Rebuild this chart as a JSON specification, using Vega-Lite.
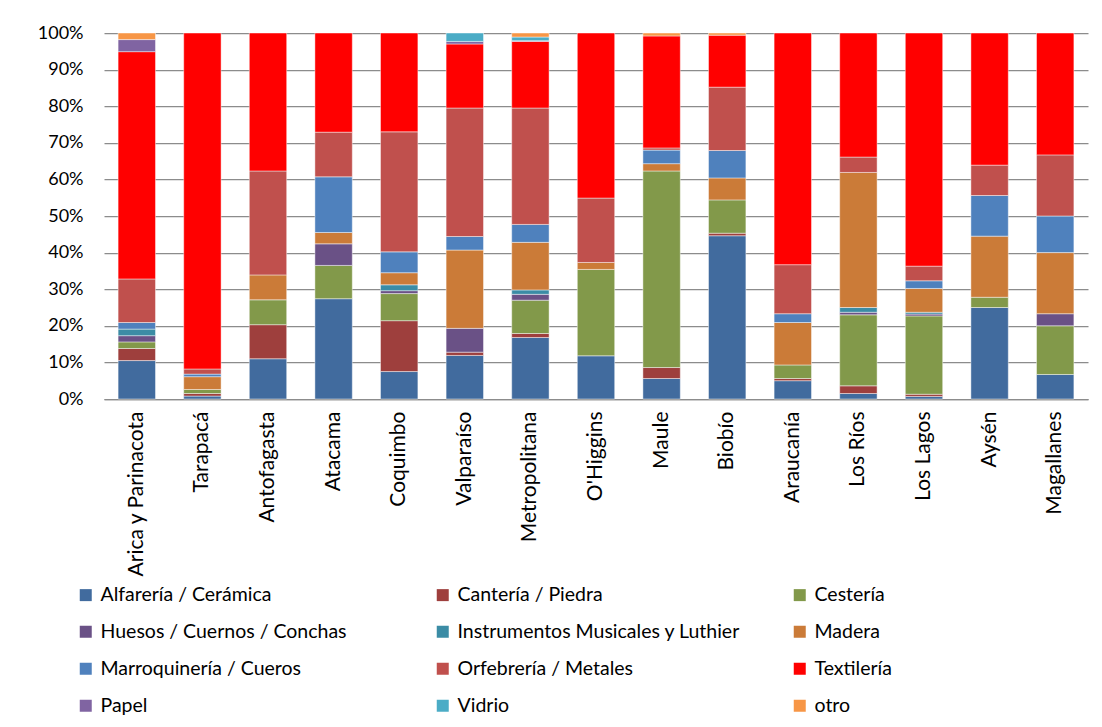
{
  "$schema": "https://vega.github.io/schema/vega-lite/v6.json",
  "width": 984,
  "height": 366,
  "autosize": "none",
  "padding": {"left": 104, "top": 33, "right": 14, "bottom": 328},
  "background": "white",
  "config": {
    "font": "Lato",
    "view": {"stroke": null},
    "axis": {"labelFont": "Lato", "labelColor": "#000000", "labelFontSize": 18}
  },
  "datasets": {
    "orden": [
      {"tipo": "Alfarería / Cerámica", "idx": 0},
      {"tipo": "Cantería / Piedra", "idx": 1},
      {"tipo": "Cestería", "idx": 2},
      {"tipo": "Huesos / Cuernos / Conchas", "idx": 3},
      {"tipo": "Instrumentos Musicales y Luthier", "idx": 4},
      {"tipo": "Madera", "idx": 5},
      {"tipo": "Marroquinería / Cueros", "idx": 6},
      {"tipo": "Orfebrería / Metales", "idx": 7},
      {"tipo": "Textilería", "idx": 8},
      {"tipo": "Papel", "idx": 9},
      {"tipo": "Vidrio", "idx": 10},
      {"tipo": "otro", "idx": 11}
    ]
  },
  "data": {
    "values": [
      {"region": "Arica y Parinacota", "tipo": "Alfarería / Cerámica", "valor": 10.5},
      {"region": "Arica y Parinacota", "tipo": "Cantería / Piedra", "valor": 3.3},
      {"region": "Arica y Parinacota", "tipo": "Cestería", "valor": 1.8},
      {"region": "Arica y Parinacota", "tipo": "Huesos / Cuernos / Conchas", "valor": 1.7},
      {"region": "Arica y Parinacota", "tipo": "Instrumentos Musicales y Luthier", "valor": 1.8},
      {"region": "Arica y Parinacota", "tipo": "Marroquinería / Cueros", "valor": 1.8},
      {"region": "Arica y Parinacota", "tipo": "Orfebrería / Metales", "valor": 11.9},
      {"region": "Arica y Parinacota", "tipo": "Textilería", "valor": 62.1},
      {"region": "Arica y Parinacota", "tipo": "Papel", "valor": 3.3},
      {"region": "Arica y Parinacota", "tipo": "otro", "valor": 1.8},

      {"region": "Tarapacá", "tipo": "Alfarería / Cerámica", "valor": 0.8},
      {"region": "Tarapacá", "tipo": "Cantería / Piedra", "valor": 0.7},
      {"region": "Tarapacá", "tipo": "Cestería", "valor": 1.1},
      {"region": "Tarapacá", "tipo": "Madera", "valor": 3.5},
      {"region": "Tarapacá", "tipo": "Marroquinería / Cueros", "valor": 0.7},
      {"region": "Tarapacá", "tipo": "Orfebrería / Metales", "valor": 1.4},
      {"region": "Tarapacá", "tipo": "Textilería", "valor": 91.8},

      {"region": "Antofagasta", "tipo": "Alfarería / Cerámica", "valor": 11.0},
      {"region": "Antofagasta", "tipo": "Cantería / Piedra", "valor": 9.3},
      {"region": "Antofagasta", "tipo": "Cestería", "valor": 6.8},
      {"region": "Antofagasta", "tipo": "Madera", "valor": 6.8},
      {"region": "Antofagasta", "tipo": "Orfebrería / Metales", "valor": 28.4},
      {"region": "Antofagasta", "tipo": "Textilería", "valor": 37.7},

      {"region": "Atacama", "tipo": "Alfarería / Cerámica", "valor": 27.4},
      {"region": "Atacama", "tipo": "Cestería", "valor": 9.1},
      {"region": "Atacama", "tipo": "Huesos / Cuernos / Conchas", "valor": 5.9},
      {"region": "Atacama", "tipo": "Madera", "valor": 3.1},
      {"region": "Atacama", "tipo": "Marroquinería / Cueros", "valor": 15.2},
      {"region": "Atacama", "tipo": "Orfebrería / Metales", "valor": 12.2},
      {"region": "Atacama", "tipo": "Textilería", "valor": 27.1},

      {"region": "Coquimbo", "tipo": "Alfarería / Cerámica", "valor": 7.5},
      {"region": "Coquimbo", "tipo": "Cantería / Piedra", "valor": 13.9},
      {"region": "Coquimbo", "tipo": "Cestería", "valor": 7.4},
      {"region": "Coquimbo", "tipo": "Huesos / Cuernos / Conchas", "valor": 0.8},
      {"region": "Coquimbo", "tipo": "Instrumentos Musicales y Luthier", "valor": 1.6},
      {"region": "Coquimbo", "tipo": "Madera", "valor": 3.3},
      {"region": "Coquimbo", "tipo": "Marroquinería / Cueros", "valor": 5.7},
      {"region": "Coquimbo", "tipo": "Orfebrería / Metales", "valor": 32.8},
      {"region": "Coquimbo", "tipo": "Textilería", "valor": 27.0},

      {"region": "Valparaíso", "tipo": "Alfarería / Cerámica", "valor": 11.9},
      {"region": "Valparaíso", "tipo": "Cantería / Piedra", "valor": 0.9},
      {"region": "Valparaíso", "tipo": "Huesos / Cuernos / Conchas", "valor": 6.5},
      {"region": "Valparaíso", "tipo": "Madera", "valor": 21.4},
      {"region": "Valparaíso", "tipo": "Marroquinería / Cueros", "valor": 3.7},
      {"region": "Valparaíso", "tipo": "Orfebrería / Metales", "valor": 35.1},
      {"region": "Valparaíso", "tipo": "Textilería", "valor": 17.5},
      {"region": "Valparaíso", "tipo": "Papel", "valor": 0.7},
      {"region": "Valparaíso", "tipo": "Vidrio", "valor": 2.3},

      {"region": "Metropolitana", "tipo": "Alfarería / Cerámica", "valor": 16.8},
      {"region": "Metropolitana", "tipo": "Cantería / Piedra", "valor": 1.1},
      {"region": "Metropolitana", "tipo": "Cestería", "valor": 9.1},
      {"region": "Metropolitana", "tipo": "Huesos / Cuernos / Conchas", "valor": 1.6},
      {"region": "Metropolitana", "tipo": "Instrumentos Musicales y Luthier", "valor": 1.2},
      {"region": "Metropolitana", "tipo": "Madera", "valor": 13.0},
      {"region": "Metropolitana", "tipo": "Marroquinería / Cueros", "valor": 4.9},
      {"region": "Metropolitana", "tipo": "Orfebrería / Metales", "valor": 31.8},
      {"region": "Metropolitana", "tipo": "Textilería", "valor": 18.2},
      {"region": "Metropolitana", "tipo": "Papel", "valor": 0.2},
      {"region": "Metropolitana", "tipo": "Vidrio", "valor": 1.0},
      {"region": "Metropolitana", "tipo": "otro", "valor": 1.1},

      {"region": "O'Higgins", "tipo": "Alfarería / Cerámica", "valor": 11.8},
      {"region": "O'Higgins", "tipo": "Cestería", "valor": 23.6},
      {"region": "O'Higgins", "tipo": "Madera", "valor": 1.9},
      {"region": "O'Higgins", "tipo": "Orfebrería / Metales", "valor": 17.6},
      {"region": "O'Higgins", "tipo": "Textilería", "valor": 45.1},

      {"region": "Maule", "tipo": "Alfarería / Cerámica", "valor": 5.6},
      {"region": "Maule", "tipo": "Cantería / Piedra", "valor": 3.0},
      {"region": "Maule", "tipo": "Cestería", "valor": 53.7},
      {"region": "Maule", "tipo": "Madera", "valor": 2.0},
      {"region": "Maule", "tipo": "Marroquinería / Cueros", "valor": 3.7},
      {"region": "Maule", "tipo": "Orfebrería / Metales", "valor": 0.6},
      {"region": "Maule", "tipo": "Textilería", "valor": 30.6},
      {"region": "Maule", "tipo": "otro", "valor": 0.8},

      {"region": "Biobío", "tipo": "Alfarería / Cerámica", "valor": 44.6},
      {"region": "Biobío", "tipo": "Cantería / Piedra", "valor": 0.7},
      {"region": "Biobío", "tipo": "Cestería", "valor": 9.1},
      {"region": "Biobío", "tipo": "Madera", "valor": 6.0},
      {"region": "Biobío", "tipo": "Marroquinería / Cueros", "valor": 7.5},
      {"region": "Biobío", "tipo": "Orfebrería / Metales", "valor": 17.3},
      {"region": "Biobío", "tipo": "Textilería", "valor": 14.2},
      {"region": "Biobío", "tipo": "otro", "valor": 0.6},

      {"region": "Araucanía", "tipo": "Alfarería / Cerámica", "valor": 5.0},
      {"region": "Araucanía", "tipo": "Cantería / Piedra", "valor": 0.6},
      {"region": "Araucanía", "tipo": "Cestería", "valor": 3.7},
      {"region": "Araucanía", "tipo": "Madera", "valor": 11.6},
      {"region": "Araucanía", "tipo": "Marroquinería / Cueros", "valor": 2.4},
      {"region": "Araucanía", "tipo": "Orfebrería / Metales", "valor": 13.4},
      {"region": "Araucanía", "tipo": "Textilería", "valor": 63.3},

      {"region": "Los Ríos", "tipo": "Alfarería / Cerámica", "valor": 1.5},
      {"region": "Los Ríos", "tipo": "Cantería / Piedra", "valor": 2.1},
      {"region": "Los Ríos", "tipo": "Cestería", "valor": 19.4},
      {"region": "Los Ríos", "tipo": "Huesos / Cuernos / Conchas", "valor": 0.7},
      {"region": "Los Ríos", "tipo": "Instrumentos Musicales y Luthier", "valor": 1.3},
      {"region": "Los Ríos", "tipo": "Madera", "valor": 36.9},
      {"region": "Los Ríos", "tipo": "Orfebrería / Metales", "valor": 4.2},
      {"region": "Los Ríos", "tipo": "Textilería", "valor": 33.9},

      {"region": "Los Lagos", "tipo": "Alfarería / Cerámica", "valor": 0.7},
      {"region": "Los Lagos", "tipo": "Cantería / Piedra", "valor": 0.6},
      {"region": "Los Lagos", "tipo": "Cestería", "valor": 21.4},
      {"region": "Los Lagos", "tipo": "Huesos / Cuernos / Conchas", "valor": 0.5},
      {"region": "Los Lagos", "tipo": "Instrumentos Musicales y Luthier", "valor": 0.5},
      {"region": "Los Lagos", "tipo": "Madera", "valor": 6.5},
      {"region": "Los Lagos", "tipo": "Marroquinería / Cueros", "valor": 2.1},
      {"region": "Los Lagos", "tipo": "Orfebrería / Metales", "valor": 4.0},
      {"region": "Los Lagos", "tipo": "Textilería", "valor": 63.7},

      {"region": "Aysén", "tipo": "Alfarería / Cerámica", "valor": 25.0},
      {"region": "Aysén", "tipo": "Cestería", "valor": 2.8},
      {"region": "Aysén", "tipo": "Madera", "valor": 16.7},
      {"region": "Aysén", "tipo": "Marroquinería / Cueros", "valor": 11.1},
      {"region": "Aysén", "tipo": "Orfebrería / Metales", "valor": 8.3},
      {"region": "Aysén", "tipo": "Textilería", "valor": 36.1},

      {"region": "Magallanes", "tipo": "Alfarería / Cerámica", "valor": 6.7},
      {"region": "Magallanes", "tipo": "Cestería", "valor": 13.3},
      {"region": "Magallanes", "tipo": "Huesos / Cuernos / Conchas", "valor": 3.3},
      {"region": "Magallanes", "tipo": "Madera", "valor": 16.7},
      {"region": "Magallanes", "tipo": "Marroquinería / Cueros", "valor": 10.0},
      {"region": "Magallanes", "tipo": "Orfebrería / Metales", "valor": 16.7},
      {"region": "Magallanes", "tipo": "Textilería", "valor": 33.3}
    ]
  },
  "transform": [
    {"lookup": "tipo", "from": {"data": {"name": "orden"}, "key": "tipo", "fields": ["idx"]}}
  ],
  "mark": {"type": "bar", "stroke": "white", "strokeWidth": 0.75, "strokeOpacity": 0.6},
  "encoding": {
    "x": {
      "field": "region",
      "type": "nominal",
      "sort": ["Arica y Parinacota", "Tarapacá", "Antofagasta", "Atacama", "Coquimbo", "Valparaíso", "Metropolitana", "O'Higgins", "Maule", "Biobío", "Araucanía", "Los Ríos", "Los Lagos", "Aysén", "Magallanes"],
      "scale": {"paddingInner": 0.43, "paddingOuter": 0.215},
      "axis": {
        "title": null,
        "labelAngle": -90,
        "labelPadding": 12,
        "labelFontSize": 21,
        "ticks": false,
        "domainColor": "#8c8c8c",
        "domainWidth": 1.25,
        "labelLimit": 300
      }
    },
    "y": {
      "field": "valor",
      "type": "quantitative",
      "stack": "normalize",
      "scale": {"domain": [0, 1]},
      "axis": {
        "title": null,
        "values": [0, 0.1, 0.2, 0.3, 0.4, 0.5, 0.6, 0.7, 0.8, 0.9, 1],
        "format": ".0%",
        "ticks": false,
        "domain": false,
        "labelPadding": 21,
        "grid": true,
        "gridColor": "#8c8c8c",
        "gridWidth": 1.25
      }
    },
    "order": {"field": "idx", "type": "quantitative", "sort": "ascending"},
    "color": {
      "field": "tipo",
      "type": "nominal",
      "scale": {
        "domain": ["Alfarería / Cerámica", "Cantería / Piedra", "Cestería", "Huesos / Cuernos / Conchas", "Instrumentos Musicales y Luthier", "Madera", "Marroquinería / Cueros", "Orfebrería / Metales", "Textilería", "Papel", "Vidrio", "otro"],
        "range": ["#416B9E", "#9E3F3D", "#82994A", "#6A5186", "#3B8CA5", "#CB7B38", "#4F81BD", "#C0504D", "#FF0000", "#8064A2", "#4BACC6", "#F79646"]
      },
      "legend": {
        "title": null,
        "orient": "none",
        "direction": "horizontal",
        "legendX": -28,
        "legendY": 552,
        "columns": 3,
        "gridAlign": "all",
        "columnPadding": 49,
        "rowPadding": 16,
        "symbolType": "square",
        "symbolSize": 144,
        "symbolStrokeWidth": 0,
        "symbolOpacity": 1,
        "labelFont": "Lato",
        "labelFontSize": 19.5,
        "labelColor": "#000000",
        "labelOffset": 5,
        "labelLimit": 400
      }
    }
  }
}
